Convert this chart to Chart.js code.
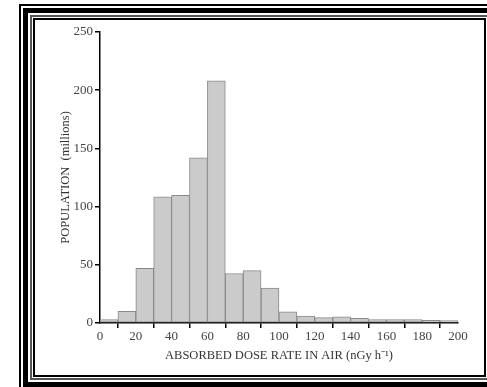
<!DOCTYPE html>
<html lang="en">
<head>
  <meta charset="UTF-8">
  <title>Population vs Absorbed Dose Rate in Air</title>
  <script src="https://cdn.jsdelivr.net/npm/chart.js"></script>
  <style>
    html, body { margin: 0; padding: 0; background: #fff; overflow: hidden; }
    body { width: 487px; height: 387px; position: relative; }
    .f { position: absolute; box-sizing: border-box; }
    #f1 { left: 19px; top: 4px; width: 480px; height: 400px; border-left: 2px solid #000; border-top: 2px solid #000; }
    #f2 { left: 23px; top: 8px; width: 480px; height: 400px; border-left: 5px solid #000; border-top: 5px solid #000; }
    #bottom { left: 23px; top: 382px; width: 470px; height: 10px; background: #000; }
    #f3 { left: 30px; top: 15px; width: 460px; height: 365px; border-left: 2px solid #555; border-top: 2px solid #555; border-bottom: 2px solid #555; }
    #box { left: 33px; top: 18px; width: 453px; height: 359px; border: 2px solid #000; background: #fff; }
    #wrap { position: absolute; left: 35px; top: 20px; width: 449px; height: 355px; }
  </style>
</head>
<body>
<div class="f" id="f1"></div>
<div class="f" id="f2"></div>
<div class="f" id="bottom"></div>
<div class="f" id="f3"></div>
<div class="f" id="box"></div>
<div id="wrap"><canvas id="myChart" width="449" height="355"></canvas></div>

<script>
  // bin centres (nGy/h), 10-wide bins from 0 to 200
  const binCenters = [5, 15, 25, 35, 45, 55, 65, 75, 85, 95, 105, 115, 125, 135, 145, 155, 165, 175, 185, 195];
  // population in millions
  const population = [3, 10, 47, 108.5, 109.7, 142, 208, 42.5, 45, 30, 9.7, 6, 4.6, 5.4, 4, 3, 3, 3, 2.3, 2];

  const tickFont = { family: 'Liberation Serif', size: 13 };
  const titleFont = { family: 'Liberation Serif', size: 12.5 };

  const ctx = document.getElementById('myChart').getContext('2d');
  new Chart(ctx, {
    type: 'bar',
    data: {
      datasets: [{
        data: binCenters.map((x, i) => ({ x: x, y: population[i] })),
        backgroundColor: '#cbcbcb',
        borderColor: '#8a8a8a',
        borderWidth: 1,
        borderSkipped: false,
        barPercentage: 1,
        categoryPercentage: 1
      }]
    },
    options: {
      responsive: false,
      animation: false,
      layout: { padding: { left: 19, right: 26, top: 12, bottom: 8 } },
      plugins: { legend: { display: false }, tooltip: { enabled: false } },
      scales: {
        x: {
          type: 'linear',
          min: 0, max: 200,
          offset: false,
          grid: { display: true, drawOnChartArea: false, drawTicks: true, tickLength: 5, color: '#000', lineWidth: 1.5 },
          border: { display: true, color: '#000', width: 1.5 },
          ticks: { stepSize: 20, color: '#444', font: tickFont, padding: 1, maxRotation: 0 },
          title: { display: true, text: 'ABSORBED DOSE RATE IN AIR (nGy h\u207B\u00B9)', color: '#333', font: titleFont, padding: { top: 4 } },
          afterFit: s => { s.height = 44; }
        },
        y: {
          min: 0, max: 250,
          grid: { display: true, drawOnChartArea: false, drawTicks: true, tickLength: 5, color: '#000', lineWidth: 1.5 },
          border: { display: true, color: '#000', width: 1.5 },
          ticks: { stepSize: 50, color: '#444', font: tickFont, padding: 2 },
          title: { display: true, text: 'POPULATION  (millions)', color: '#333', font: titleFont, padding: { bottom: 6 } },
          afterFit: s => { s.width = 46; }
        }
      }
    }
  });
</script>
</body>
</html>
